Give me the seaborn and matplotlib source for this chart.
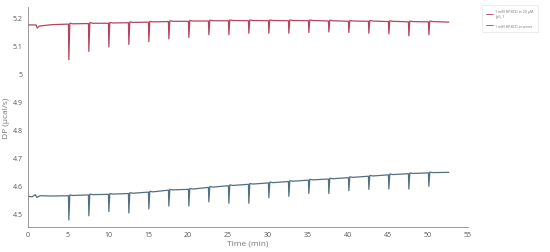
import numpy as np
import pandas as pd
import matplotlib
matplotlib.use('Agg')
import matplotlib.pyplot as plt
import seaborn as sns
from matplotlib.ticker import MultipleLocator, FuncFormatter

# --- injection times (min) ---
inj_times = [5.1, 7.6, 10.1, 12.6, 15.1, 17.6, 20.1, 22.6, 25.1, 27.6,
             30.1, 32.6, 35.1, 37.6, 40.1, 42.6, 45.1, 47.6, 50.1]

# --- top trace: 1 mM HPBCD in 20 uM IgG_1 ---
igg_start = [(0.0, 5.175), (1.0, 5.175), (1.15, 5.164), (1.4, 5.171), (3.0, 5.176)]
igg_pre = [5.178, 5.180, 5.181, 5.183, 5.185, 5.187, 5.188, 5.189, 5.190, 5.190,
           5.190, 5.190, 5.190, 5.189, 5.188, 5.188, 5.187, 5.186, 5.186]
igg_dip = [5.050, 5.080, 5.096, 5.105, 5.115, 5.125, 5.130, 5.140, 5.140, 5.145,
           5.145, 5.145, 5.148, 5.150, 5.148, 5.145, 5.143, 5.136, 5.140]
igg_end = [(52.6, 5.185)]

# --- bottom trace: 1 mM HPBCD in water ---
wat_start = [(0.0, 4.560), (0.5, 4.558), (0.9, 4.566), (1.1, 4.556), (1.5, 4.562), (3.0, 4.561)]
wat_pre = [4.562, 4.565, 4.567, 4.570, 4.575, 4.582, 4.585, 4.592, 4.598, 4.603,
           4.608, 4.613, 4.618, 4.622, 4.627, 4.632, 4.637, 4.641, 4.644]
wat_dip = [4.475, 4.490, 4.505, 4.500, 4.515, 4.525, 4.525, 4.540, 4.535, 4.535,
           4.555, 4.560, 4.570, 4.570, 4.580, 4.585, 4.586, 4.586, 4.596]
wat_end = [(52.6, 4.646)]

labels = ['1 mM HPBCD in 20 µM\nIgG_1', '1 mM HPBCD in water']
colors = ['#b3455f', '#52707f']


def build(start, pre, dip, end):
    pts = list(start)
    for t, p, d in zip(inj_times, pre, dip):
        pts += [(t - 0.05, p), (t, d), (t + 0.12, p + 0.003), (t + 0.5, p + 0.001)]
    pts += end
    return pts


rows = []
for lab, pts in zip(labels, [build(igg_start, igg_pre, igg_dip, igg_end),
                             build(wat_start, wat_pre, wat_dip, wat_end)]):
    for t, v in pts:
        rows.append({'time': t, 'dp': v, 'series': lab})
df = pd.DataFrame(rows)

sns.set_style('white')
plt.rcParams['font.family'] = ['Open Sans', 'DejaVu Sans']

fig = plt.figure(figsize=(5.5, 2.53), dpi=100)
ax = fig.add_axes([0.051, 0.099, 0.80, 0.869])
sns.lineplot(data=df, x='time', y='dp', hue='series', palette=colors,
             sort=False, estimator=None, lw=0.9, ax=ax)

ax.set_xlim(0, 55)
ax.set_ylim(4.45, 5.239)
ax.xaxis.set_major_locator(MultipleLocator(5))
ax.xaxis.set_minor_locator(MultipleLocator(2.5))
ax.yaxis.set_major_locator(MultipleLocator(0.1))
ax.yaxis.set_minor_locator(MultipleLocator(0.05))
ax.yaxis.set_major_formatter(FuncFormatter(lambda v, p: f'{v:g}'))

for s in ['top', 'right']:
    ax.spines[s].set_visible(False)
for s in ['left', 'bottom']:
    ax.spines[s].set_color('#888888')
    ax.spines[s].set_linewidth(0.6)
ax.tick_params(which='major', direction='out', length=2.5, width=0.5, colors='#888888',
               labelsize=5, labelcolor='#555555', pad=1.5)
ax.tick_params(which='minor', direction='out', length=1.5, width=0.4, colors='#888888')
ax.tick_params(axis='x', which='both', direction='inout')
ax.tick_params(axis='x', which='major', length=3.5)

ax.set_xlabel('Time (min)', fontsize=6, color='#777777', labelpad=1)
ax.set_ylabel('DP (µcal/s)', fontsize=6, color='#777777', labelpad=2)

leg = ax.legend(loc='upper left', bbox_to_anchor=(1.027, 1.018), fontsize=2.6,
                frameon=True, handlelength=2.0, handletextpad=0.6,
                borderpad=1.2, labelspacing=1.6,
                edgecolor='#e0e0e0', fancybox=False)
leg.get_frame().set_linewidth(0.5)
for txt in leg.get_texts():
    txt.set_color('#777777')
for ln in leg.get_lines():
    ln.set_linewidth(0.6)

fig.savefig('out.png', dpi=100)
